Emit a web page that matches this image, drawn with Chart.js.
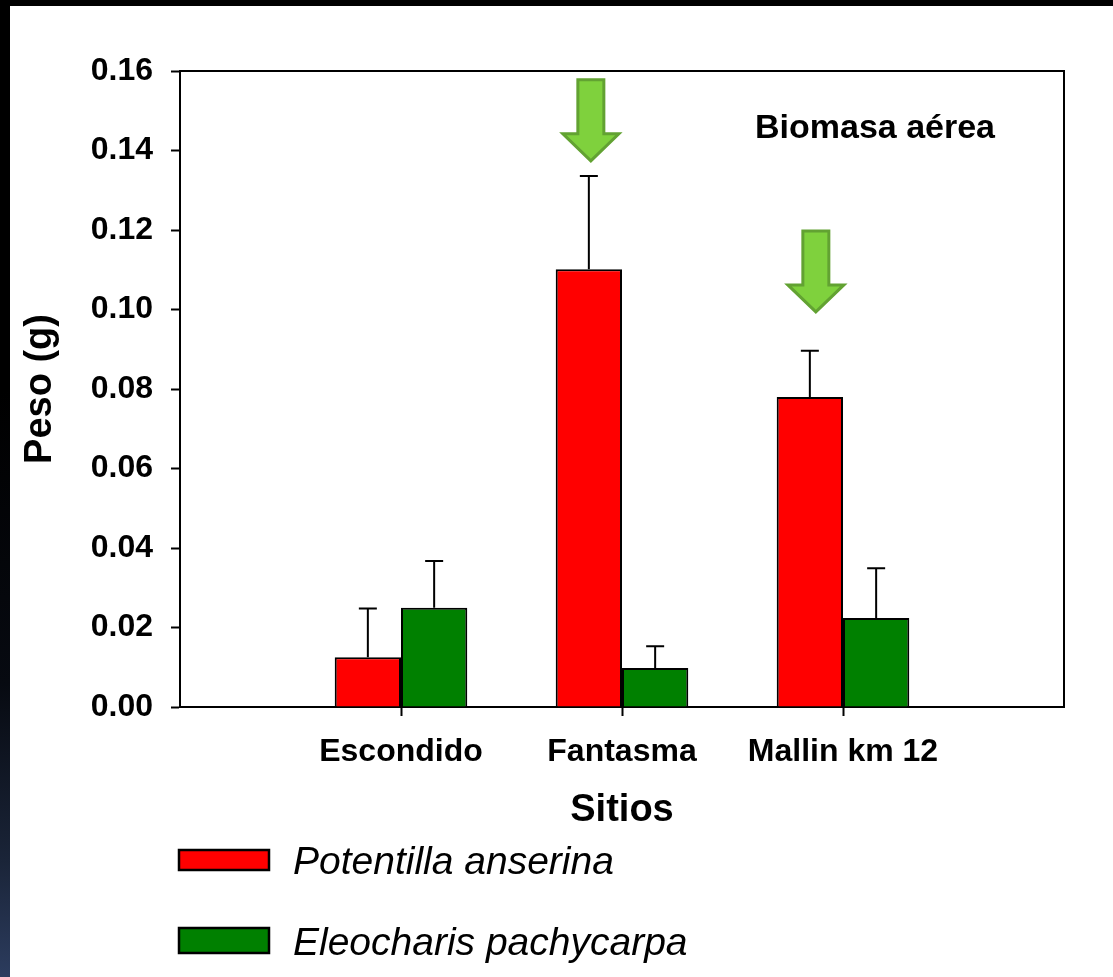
<!DOCTYPE html>
<html>
<head>
<meta charset="utf-8">
<title>Biomasa aérea</title>
<script src="https://cdn.jsdelivr.net/npm/chart.js@4.4.1/dist/chart.umd.min.js"></script>
<style>
  html, body { margin: 0; padding: 0; background: #fff; }
  #wrap { position: relative; width: 1113px; height: 977px; overflow: hidden; background: #fff; }
  #c { position: absolute; left: 0; top: 0; }
  #topbar { position: absolute; left: 0; top: 0; width: 1113px; height: 6px; background: #000; }
  #sidebar { position: absolute; left: 0; top: 0; width: 10px; height: 977px;
    background: linear-gradient(to bottom, #000 0%, #000 40%, #070a11 70%, #1a2438 88%, #2c3c5e 100%); }
</style>
</head>
<body>
<div id="wrap">
  <canvas id="c" width="1113" height="977"></canvas>
  <div id="topbar"></div>
  <div id="sidebar"></div>
</div>
<script>
// Sites sampled
const sites = ['Escondido', 'Fantasma', 'Mallin km 12'];

// Mean above-ground dry weight (g) per species
const potentillaMean = [0.0125, 0.1101, 0.0780];
const potentillaSE   = [0.0123, 0.0235, 0.0116];
const eleocharisMean = [0.0250, 0.0098, 0.0224];
const eleocharisSE   = [0.0117, 0.0055, 0.0125];

// Y axis range and tick spacing
const yMin = 0;
const yMax = 0.16;
const yStep = 0.02;

// Sites highlighted with an arrow, and the value where each arrow tip sits
const arrowSites = ['Fantasma', 'Mallin km 12'];
const arrowTipValues = [0.1374, 0.0994];

const FONT = "'Liberation Sans', Arial, Helvetica, sans-serif";

// Empty slots on both ends give the axis its margin on each side
const axisLabels = ['', ...sites, ''];
const pad = arr => [null, ...arr, null];

// Upward-only error bars
const errorBars = {
  id: 'errorBars',
  afterDatasetsDraw(chart) {
    const ctx = chart.ctx;
    const y = chart.scales.y;
    ctx.save();
    ctx.strokeStyle = '#000';
    ctx.lineWidth = 2;
    chart.data.datasets.forEach((ds, di) => {
      const meta = chart.getDatasetMeta(di);
      meta.data.forEach((bar, i) => {
        const v = ds.data[i];
        const e = ds.errors[i];
        if (v == null || e == null) return;
        const top = y.getPixelForValue(v + e);
        const base = y.getPixelForValue(v);
        ctx.beginPath();
        ctx.moveTo(bar.x, base);
        ctx.lineTo(bar.x, top);
        ctx.moveTo(bar.x - 9, top);
        ctx.lineTo(bar.x + 9, top);
        ctx.stroke();
      });
    });
    ctx.restore();
  }
};

// Frame, titles, arrows and legend
const decor = {
  id: 'decor',
  afterDraw(chart, args, opts) {
    const ctx = chart.ctx;
    const a = chart.chartArea;
    const x = chart.scales.x;
    const y = chart.scales.y;
    ctx.save();

    // top and right sides of the plot frame
    ctx.strokeStyle = '#000';
    ctx.lineWidth = 2;
    ctx.beginPath();
    ctx.moveTo(a.left, a.top);
    ctx.lineTo(a.right, a.top);
    ctx.lineTo(a.right, a.bottom);
    ctx.stroke();

    // axis titles
    ctx.fillStyle = '#000';
    ctx.textAlign = 'center';
    ctx.textBaseline = 'alphabetic';
    ctx.font = 'bold 38px ' + FONT;
    ctx.fillText('Sitios', (a.left + a.right) / 2, 821);
    ctx.save();
    ctx.translate(51, (a.top + a.bottom) / 2);
    ctx.rotate(-Math.PI / 2);
    ctx.fillText('Peso (g)', 0, 0);
    ctx.restore();

    // panel title
    ctx.font = 'bold 34px ' + FONT;
    ctx.fillText('Biomasa aérea', 875, 138);

    // arrows pointing at the highlighted sites
    const redMeta = chart.getDatasetMeta(0);
    arrowSites.forEach((site, k) => {
      const idx = axisLabels.indexOf(site);
      const bar = redMeta.data[idx];
      const tx = bar.x + opts.arrowShift[k];
      const ty = y.getPixelForValue(arrowTipValues[k]);
      ctx.beginPath();
      ctx.moveTo(tx - 13, ty - 81);
      ctx.lineTo(tx + 13, ty - 81);
      ctx.lineTo(tx + 13, ty - 27);
      ctx.lineTo(tx + 28, ty - 27);
      ctx.lineTo(tx, ty);
      ctx.lineTo(tx - 28, ty - 27);
      ctx.lineTo(tx - 13, ty - 27);
      ctx.closePath();
      ctx.fillStyle = '#7fd13d';
      ctx.fill();
      ctx.lineWidth = 3;
      ctx.strokeStyle = '#62a232';
      ctx.stroke();
    });

    // legend
    const rows = [
      { top: 850, h: 20, base: 874 },
      { top: 928, h: 25, base: 955 }
    ];
    chart.data.datasets.forEach((ds, i) => {
      const r = rows[i];
      ctx.fillStyle = ds.backgroundColor;
      ctx.fillRect(179, r.top, 90, r.h);
      ctx.lineWidth = 2.5;
      ctx.strokeStyle = '#000';
      ctx.strokeRect(179, r.top, 90, r.h);
      ctx.fillStyle = '#000';
      ctx.textAlign = 'left';
      ctx.font = 'italic 39px ' + FONT;
      ctx.fillText(ds.label, 293, r.base);
    });

    ctx.restore();
  }
};

const tickFont = { family: FONT, size: 32, weight: 'bold' };

new Chart(document.getElementById('c'), {
  type: 'bar',
  data: {
    labels: axisLabels,
    datasets: [
      {
        label: 'Potentilla anserina',
        data: pad(potentillaMean),
        errors: pad(potentillaSE),
        backgroundColor: '#ff0000',
        borderColor: '#000',
        borderWidth: 2,
        categoryPercentage: 0.6,
        barPercentage: 1.0
      },
      {
        label: 'Eleocharis pachycarpa',
        data: pad(eleocharisMean),
        errors: pad(eleocharisSE),
        backgroundColor: '#008000',
        borderColor: '#000',
        borderWidth: 2,
        categoryPercentage: 0.6,
        barPercentage: 1.0
      }
    ]
  },
  options: {
    responsive: false,
    maintainAspectRatio: false,
    animation: false,
    devicePixelRatio: 1,
    layout: { padding: { top: 71, right: 49, left: 0, bottom: 0 } },
    plugins: {
      legend: { display: false },
      tooltip: { enabled: false },
      decor: { arrowShift: [2, 6] }
    },
    scales: {
      x: {
        type: 'category',
        offset: false,
        grid: {
          offset: false,
          drawOnChartArea: false,
          drawTicks: true,
          tickLength: 9,
          tickWidth: 2,
          tickColor: c => (c.index === 0 || c.index === axisLabels.length - 1) ? 'rgba(0,0,0,0)' : '#000'
        },
        border: { display: true, color: '#000', width: 2 },
        ticks: { autoSkip: false, maxRotation: 0, padding: 17, color: '#000', font: tickFont },
        afterFit: s => { s.height = 270; }
      },
      y: {
        min: yMin,
        max: yMax,
        grid: { drawOnChartArea: false, tickLength: 9, tickWidth: 2, tickColor: '#000' },
        border: { display: true, color: '#000', width: 2 },
        ticks: {
          stepSize: yStep,
          padding: 18,
          color: '#000',
          font: tickFont,
          callback: v => Number(v).toFixed(2)
        },
        afterFit: s => { s.width = 180; }
      }
    }
  },
  plugins: [errorBars, decor]
});
</script>
</body>
</html>
